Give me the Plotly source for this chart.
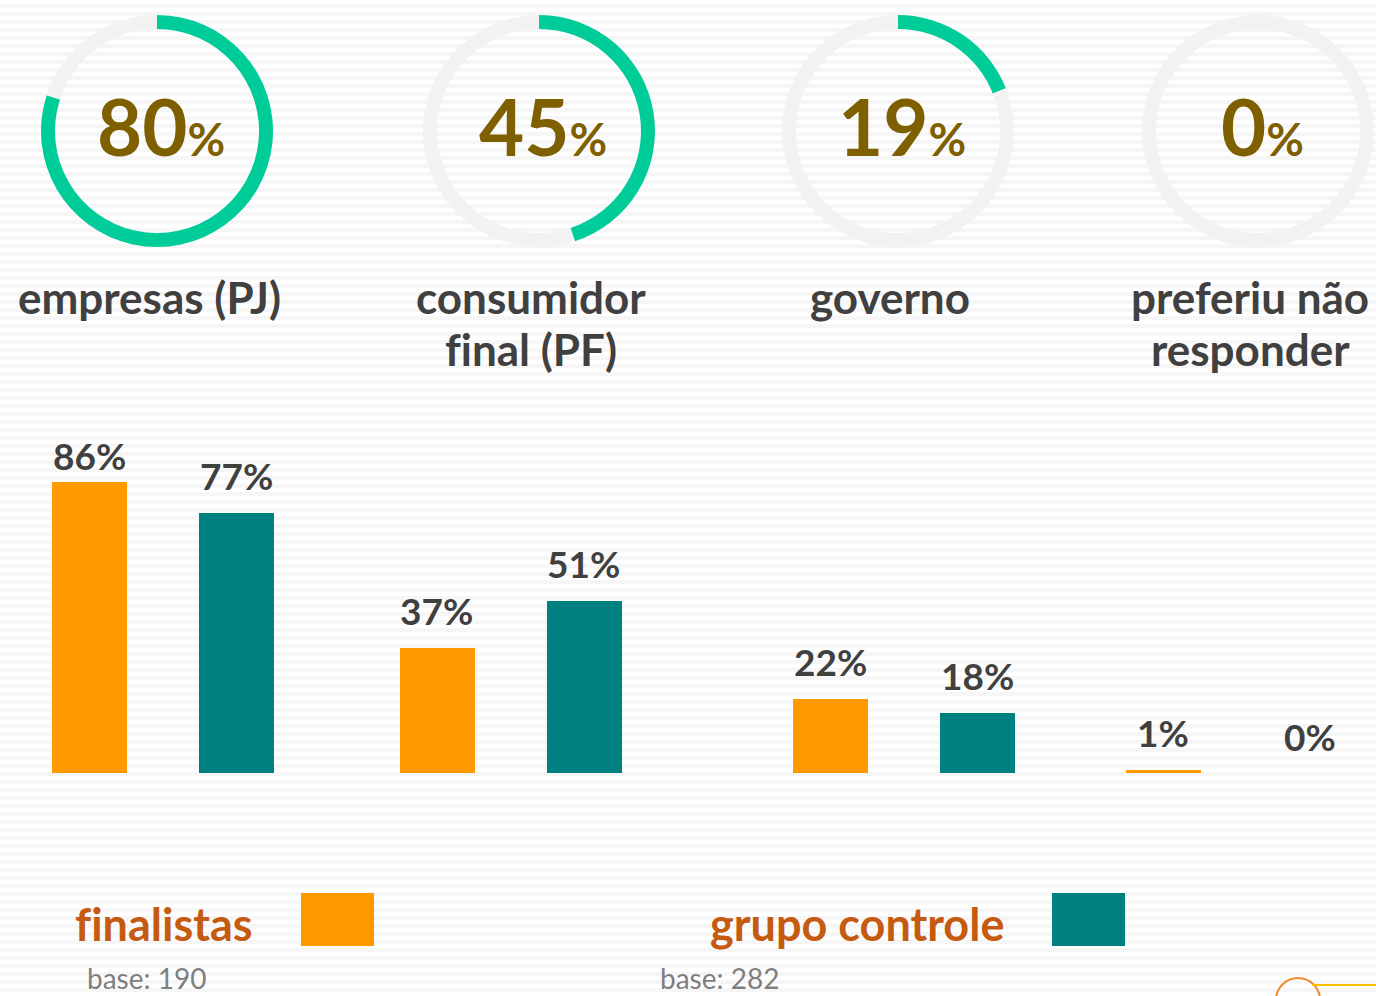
import plotly.graph_objects as go

# ---- data ----
categories = ["empresas (PJ)", "consumidor<br>final (PF)", "governo", "preferiu não<br>responder"]
overall_pct = [80, 45, 19, 0]
groups = ["finalistas", "grupo controle"]
finalistas = [86, 37, 22, 1]
grupo_controle = [77, 51, 18, 0]
bases = ["base: 190", "base: 282"]

# ---- style / layout constants ----
W, H = 1376, 996
FONT = "Lato"
GREEN = "#00CC99"
RING_BG = "#F2F2F2"
GOLD = "#7F6000"
DARK = "#404040"
ORANGE = "#FF9900"
TEAL = "#008080"
LEG_TXT = "#C55A11"
ZWNJ = "\u200c"

donut_cx = [157, 539, 898, 1258]
donut_cy = 131
donut_r = 116
label_dx = -8
orange_cx = [89.5, 437, 830.5, 1163]
spacing = 147
pad = 0.3
baseline_px = 773
px_per_pct = 3.385
label_gap = 37       # px between bar top and label centre
label_top_px = 456   # labels are not placed higher than this


def px(x):
    return x / W


def py(y):
    return 1 - y / H


def nolig(s):
    # avoid the "fi" ligature
    return s.replace("fi", "f" + ZWNJ + "i")


fig = go.Figure()

# background stripes
shapes = []
for y in range(4, H, 8):
    shapes.append(dict(type="rect", xref="paper", yref="paper", x0=0, x1=1,
                       y0=py(y + 4), y1=py(y), fillcolor="#F6F6F6",
                       line=dict(width=0), layer="below"))

annotations = []

# donuts
for i, v in enumerate(overall_pct):
    cx = donut_cx[i]
    fig.add_trace(go.Pie(
        values=[v, 100 - v], labels=["sim", "não"], sort=False,
        direction="clockwise", rotation=0, hole=(donut_r - 14) / donut_r,
        marker=dict(colors=[GREEN, RING_BG], line=dict(width=0)),
        textinfo="none", hoverinfo="skip", showlegend=False,
        domain=dict(x=[px(cx - donut_r), px(cx + donut_r)],
                    y=[py(donut_cy + donut_r), py(donut_cy - donut_r)]),
    ))
    annotations.append(dict(
        x=px(cx + 4), y=py(donut_cy - 5), xref="paper", yref="paper",
        text=f"<b>{v}<span style='font-size:46px'>%</span></b>",
        font=dict(family=FONT, size=78, color=GOLD),
        showarrow=False, xanchor="center", yanchor="middle"))
    for j, line in enumerate(categories[i].split("<br>")):
        annotations.append(dict(
            x=px(cx + label_dx), y=py(297 + 52 * j), xref="paper", yref="paper",
            text=f"<b>{nolig(line)}</b>",
            font=dict(family=FONT, size=44, color=DARK),
            showarrow=False, xanchor="center", yanchor="middle"))

# bars: one x axis per group
y_top_px = baseline_px - 100 * px_per_pct
layout_axes = {}
for i in range(4):
    ax = "" if i == 0 else str(i + 1)
    x0 = orange_cx[i] - pad * spacing
    x1 = orange_cx[i] + (1 + pad) * spacing
    layout_axes[f"xaxis{ax}"] = dict(domain=[px(x0), px(x1)], range=[-pad, 1 + pad],
                                     visible=False, anchor="y", type="category",
                                     categoryorder="array", categoryarray=groups)
    vals = [finalistas[i], grupo_controle[i]]
    fig.add_trace(go.Bar(
        x=groups, y=vals, xaxis=f"x{ax}", yaxis="y", width=0.51,
        marker=dict(color=[ORANGE, TEAL], line=dict(width=0)),
        hoverinfo="skip", showlegend=False))
    for g, val in zip(groups, vals):
        bar_top = baseline_px - val * px_per_pct
        shift = bar_top - max(bar_top - label_gap, label_top_px)
        annotations.append(dict(
            x=g, y=val, xref=f"x{ax}", yref="y",
            text=f"<b>{val}%</b>", font=dict(family=FONT, size=37, color=DARK),
            showarrow=False, xanchor="center", yanchor="middle", yshift=shift))

layout_axes["yaxis"] = dict(domain=[py(baseline_px), py(y_top_px)], range=[0, 100],
                            visible=False, fixedrange=True)

# legend (custom)
leg = [(groups[0], 164, ORANGE, 301, bases[0], 88),
       (groups[1], 857, TEAL, 1052, bases[1], 661)]
for name, tx, col, sx, base, bx in leg:
    annotations.append(dict(
        x=px(tx), y=py(924), xref="paper", yref="paper",
        text=f"<b>{nolig(name)}</b>", font=dict(family=FONT, size=45, color=LEG_TXT),
        showarrow=False, xanchor="center", yanchor="middle"))
    shapes.append(dict(type="rect", xref="paper", yref="paper",
                       x0=px(sx), x1=px(sx + 73), y0=py(946), y1=py(893),
                       fillcolor=col, line=dict(width=0)))
    annotations.append(dict(
        x=px(bx - 2), y=py(996), xref="paper", yref="paper",
        text=base, font=dict(family=FONT, size=28, color="#7F7F7F"),
        showarrow=False, xanchor="left", yanchor="bottom", borderpad=0))

# partial logo at bottom right
shapes.append(dict(type="circle", xref="paper", yref="paper",
                   x0=px(1276), x1=px(1320), y0=py(1022), y1=py(978),
                   line=dict(color="#F08A30", width=2)))
shapes.append(dict(type="line", xref="paper", yref="paper",
                   x0=px(1312), x1=px(1376), y0=py(985), y1=py(985),
                   line=dict(color="#FFC000", width=2)))

fig.update_layout(
    width=W, height=H, margin=dict(l=0, r=0, t=0, b=0),
    paper_bgcolor="white", plot_bgcolor="rgba(0,0,0,0)",
    shapes=shapes, annotations=annotations, bargap=0,
    **layout_axes)

fig.write_html("out.html", config={"displayModeBar": False},
               post_script="document.body.style.margin='0';document.body.style.overflow='hidden';")
